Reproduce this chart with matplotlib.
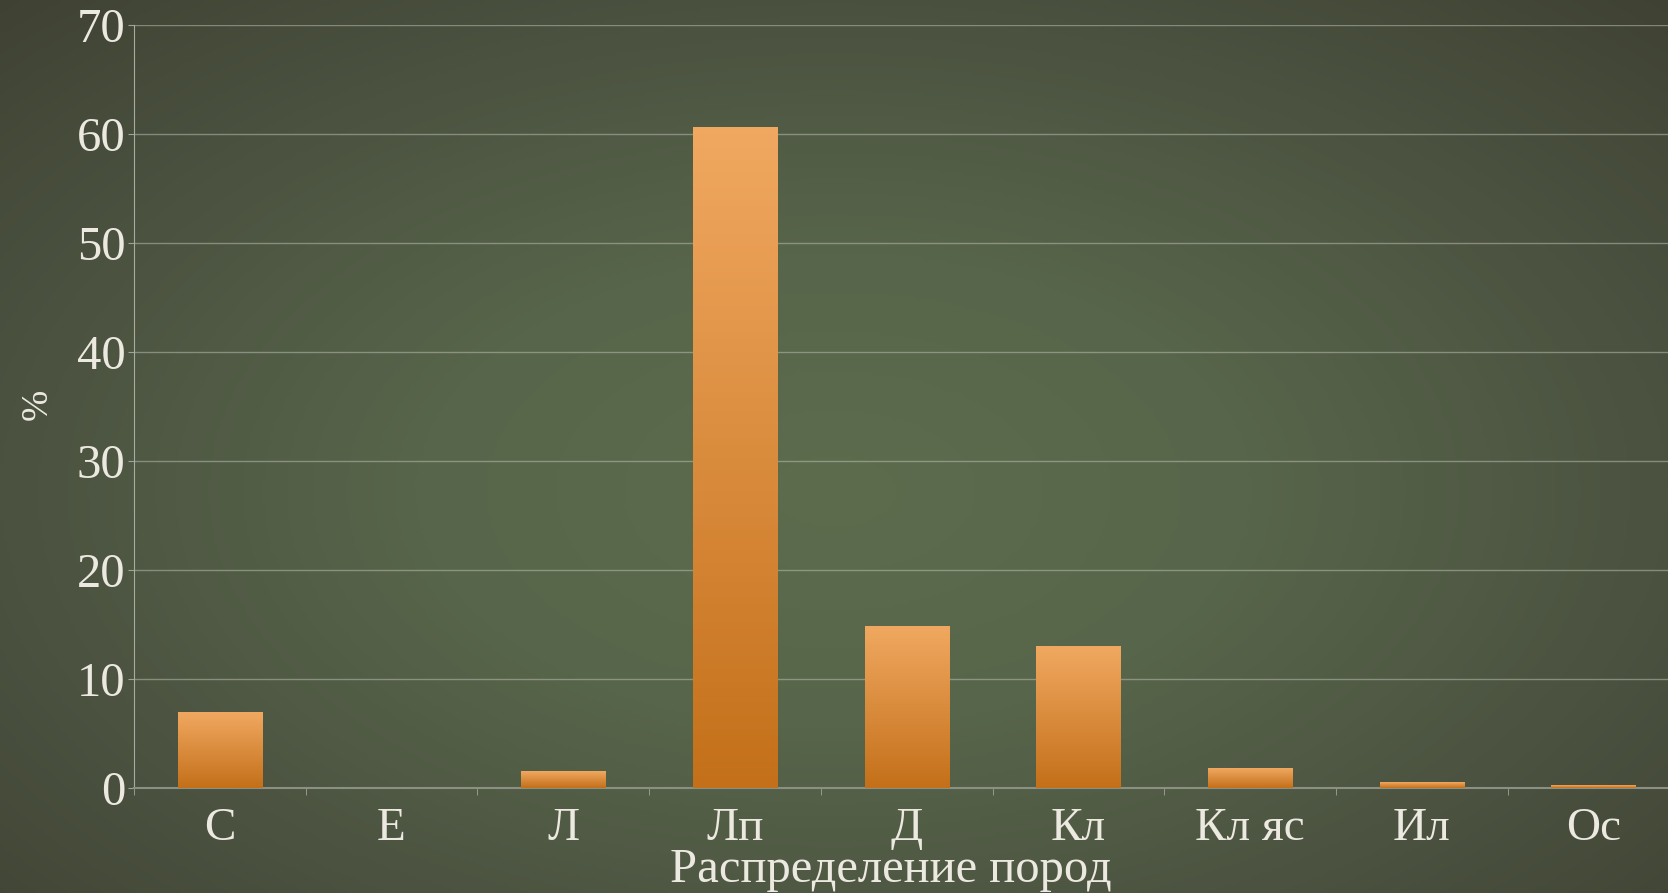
import numpy as np
import matplotlib
matplotlib.use("Agg")
import matplotlib.pyplot as plt
from matplotlib.colors import LinearSegmentedColormap

# data
categories = ["С", "Е", "Л", "Лп", "Д", "Кл", "Кл яс", "Ил", "Ос"]
values = [6.9, 0, 1.5, 60.6, 14.8, 13.0, 1.8, 0.5, 0.2]
yticks = [0, 10, 20, 30, 40, 50, 60, 70]

plt.rcParams['font.family'] = ['Liberation Serif', 'DejaVu Serif']
txt = '#ece9e0'

fig = plt.figure(figsize=(16.68, 8.93), dpi=100)

# background with radial gradient
bg = fig.add_axes([0, 0, 1, 1])
bg.axis('off')
yy, xx = np.mgrid[0:1:300j, 0:1:560j]
r = np.sqrt(((xx - 0.5) / 0.75) ** 2 + ((yy - 0.55) / 0.8) ** 2)
bg_cmap = LinearSegmentedColormap.from_list('bg', ['#5d6c4d', '#57654a', '#4b5240', '#3e4031'])
bg.imshow(np.clip(r, 0, 1), cmap=bg_cmap, aspect='auto', extent=[0, 1, 0, 1], vmin=0, vmax=1)
bg.set_xlim(0, 1)
bg.set_ylim(0, 1)

# main axes
x0 = 134 / 1668
y0 = 1 - 788 / 893
h = (788 - 25) / 893
ax = fig.add_axes([x0, y0, 1 - x0, h])
ax.patch.set_alpha(0)
cat_w = 171.7

bar_cmap = LinearSegmentedColormap.from_list('bar', ['#c4701a', '#f0a860'])
grad = np.linspace(0, 1, 100).reshape(-1, 1)
bw = 0.49
for i, v in enumerate(values):
    if v <= 0:
        continue
    ax.imshow(grad, cmap=bar_cmap, aspect='auto', origin='lower',
              extent=[i - bw / 2, i + bw / 2, 0, v], zorder=3)

ax.set_yticks(yticks)
ax.set_yticklabels([str(t) for t in yticks], fontsize=35, color=txt)
ax.yaxis.grid(True, color='#b8bcae', linewidth=1, alpha=0.55, zorder=0)
ax.set_axisbelow(True)

ax.set_xticks(range(len(categories)))
ax.set_xticklabels(categories, fontsize=34, color=txt)
ax.set_xticks(np.arange(-0.5, len(categories), 1), minor=True)
ax.tick_params(axis='x', which='major', length=0, pad=14)
ax.tick_params(axis='x', which='minor', length=5, color='#a0a496', direction='out')
ax.tick_params(axis='y', length=4, color='#a0a496', pad=2)

# limits after ticks so set_xticks does not widen them
ax.set_xlim(-0.5, -0.5 + (1668 - 134) / cat_w)
ax.set_ylim(0, 70)

for s in ['top', 'right']:
    ax.spines[s].set_visible(False)
ax.spines['left'].set_color('#a8ac9e')
ax.spines['bottom'].set_color('#8c9082')
ax.spines['bottom'].set_linewidth(1.5)

fig.text(670 / 1668, 1 - 870 / 893, 'Распределение пород', fontsize=35, color=txt,
         ha='left', va='center')
fig.text(37 / 1668, 1 - 404 / 893, '%', fontsize=27, color=txt, rotation=90,
         ha='center', va='center')

fig.savefig('out.png', dpi=100)
